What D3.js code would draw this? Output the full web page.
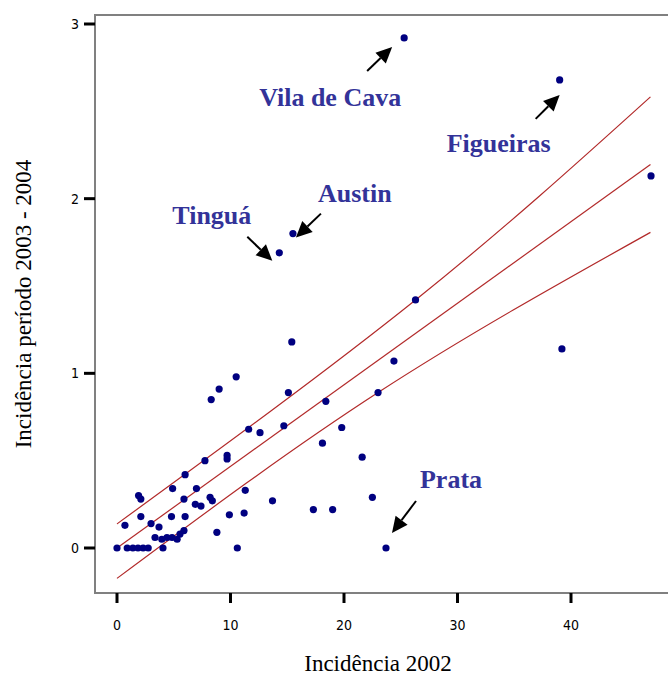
<!DOCTYPE html>
<html>
<head>
<meta charset="utf-8">
<script src="https://cdn.jsdelivr.net/npm/d3@7"></script>
<style>
  body { margin: 0; background: #fff; }
  .tick-label { font-family: "Liberation Sans Narrow", "DejaVu Sans Condensed", sans-serif; font-size: 14px; fill: #000; }
  .axis-title { font-family: "Liberation Serif", "Times New Roman", serif; font-size: 23px; fill: #000; }
  .note { font-family: "Liberation Serif", "Times New Roman", serif; font-size: 26px; font-weight: bold; fill: #333399; }
</style>
</head>
<body>
<div id="chart"></div>
<script>
// incidence 2002 (x) vs incidence 2003-2004 (y), one entry per locality
const incid2002 = [
  25.3, 39.0, 47.05, 15.5, 14.3, 26.3, 15.4, 39.2, 24.4, 10.5,
  9.0, 8.3, 15.1, 23.0, 18.4, 11.6, 12.6, 14.7, 19.8, 18.1,
  21.6, 9.7, 9.7, 7.75, 6.0, 4.9, 7.0, 11.3, 1.9, 2.1,
  5.9, 8.2, 8.4, 6.9, 7.4, 13.7, 22.5, 2.1, 4.8, 6.0,
  9.9, 11.2, 17.3, 19.0, 0.7, 3.0, 3.7, 8.8, 3.35, 3.95,
  4.4, 4.85, 5.3, 5.55, 5.9, 0.0, 0.9, 1.4, 1.85, 2.3,
  2.75, 4.05, 10.6, 23.7
];
const incid0304 = [
  2.92, 2.68, 2.13, 1.80, 1.69, 1.42, 1.18, 1.14, 1.07, 0.98,
  0.91, 0.85, 0.89, 0.89, 0.84, 0.68, 0.66, 0.70, 0.69, 0.60,
  0.52, 0.53, 0.51, 0.50, 0.42, 0.34, 0.34, 0.33, 0.30, 0.28,
  0.28, 0.29, 0.27, 0.25, 0.24, 0.27, 0.29, 0.18, 0.18, 0.18,
  0.19, 0.20, 0.22, 0.22, 0.13, 0.14, 0.12, 0.09, 0.06, 0.05,
  0.06, 0.06, 0.05, 0.08, 0.10, 0.0, 0.0, 0.0, 0.0, 0.0,
  0.0, 0.0, 0.0, 0.0
];

// fitted line and its confidence band
const upperX = [0, 26.3, 47.0];
const upperY = [0.138, 1.42, 2.583];
const midX   = [0, 47.0];
const midY   = [0.0, 2.195];
const lowerX = [0, 23.0, 47.0];
const lowerY = [-0.174, 0.89, 1.807];

const xTicks = [0, 10, 20, 30, 40];
const yTicks = [0, 1, 2, 3];

// labelled localities (index into the arrays above)
const noteNames = ["Vila de Cava", "Figueiras", "Austin", "Tinguá", "Prata"];
const noteIndex = [0, 1, 3, 4, 63];

// label / arrow placement relative to the point, in pixels
const noteLayout = [
  {lx: -145, ly: 68,  tip: [-12, 9],  tail: [-37, 33]},
  {lx: -113, ly: 72,  tip: [0, 15],   tail: [-24, 39]},
  {lx: 25,   ly: -32, tip: [3, 4],    tail: [28, -20]},
  {lx: -107, ly: -29, tip: [-7, 8],   tail: [-32, -16]},
  {lx: 34,   ly: -60, tip: [6, -15],  tail: [30, -47]}
];

const width = 668, height = 680;
const frame = {left: 95, top: 15, right: 670, bottom: 593};

const svg = d3.select("#chart")
  .append("svg")
  .attr("width", width)
  .attr("height", height);

const xScale = d3.scaleLinear()
  .domain([0, 40])
  .range([117, 571]);

const yScale = d3.scaleLinear()
  .domain([0, 3])
  .range([548, 24]);

// frame
svg.append("path")
  .attr("d", `M${frame.right},${frame.top}H${frame.left}V${frame.bottom}H${frame.right}`)
  .attr("fill", "none")
  .attr("stroke", "#808080")
  .attr("stroke-width", 2);

// ticks
svg.append("g")
  .selectAll("line")
  .data(xTicks)
  .join("line")
  .attr("x1", d => xScale(d))
  .attr("x2", d => xScale(d))
  .attr("y1", frame.bottom)
  .attr("y2", frame.bottom + 10)
  .attr("stroke", "#000")
  .attr("stroke-width", 3);

svg.append("g")
  .selectAll("text")
  .data(xTicks)
  .join("text")
  .attr("class", "tick-label")
  .attr("x", d => xScale(d))
  .attr("y", 630)
  .attr("text-anchor", "middle")
  .text(d => d);

svg.append("g")
  .selectAll("line")
  .data(yTicks)
  .join("line")
  .attr("x1", frame.left - 11)
  .attr("x2", frame.left)
  .attr("y1", d => yScale(d))
  .attr("y2", d => yScale(d))
  .attr("stroke", "#000")
  .attr("stroke-width", 3);

svg.append("g")
  .selectAll("text")
  .data(yTicks)
  .join("text")
  .attr("class", "tick-label")
  .attr("x", 79)
  .attr("y", d => yScale(d) + 5)
  .attr("text-anchor", "end")
  .text(d => d);

// axis titles
svg.append("text")
  .attr("class", "axis-title")
  .attr("x", 378)
  .attr("y", 671)
  .attr("text-anchor", "middle")
  .text("Incidência 2002");

svg.append("text")
  .attr("class", "axis-title")
  .attr("transform", "translate(31,304) rotate(-90)")
  .attr("text-anchor", "middle")
  .text("Incidência período 2003 - 2004");

// fit lines
const line = d3.line()
  .x(d => xScale(d[0]))
  .y(d => yScale(d[1]))
  .curve(d3.curveNatural);

[[upperX, upperY], [midX, midY], [lowerX, lowerY]].forEach(([xs, ys]) => {
  svg.append("path")
    .datum(xs.map((x, i) => [x, ys[i]]))
    .attr("d", line)
    .attr("fill", "none")
    .attr("stroke", "#b22a2a")
    .attr("stroke-width", 1.2);
});

// points
svg.append("g")
  .selectAll("circle")
  .data(d3.range(incid2002.length))
  .join("circle")
  .attr("cx", i => xScale(incid2002[i]))
  .attr("cy", i => yScale(incid0304[i]))
  .attr("r", 3.6)
  .attr("fill", "#000080");

// annotations
const notes = svg.append("g");
noteNames.forEach((name, k) => {
  const i = noteIndex[k], lay = noteLayout[k];
  const px = xScale(incid2002[i]), py = yScale(incid0304[i]);
  const tip = [px + lay.tip[0], py + lay.tip[1]];
  const tail = [px + lay.tail[0], py + lay.tail[1]];
  const ang = Math.atan2(tip[1] - tail[1], tip[0] - tail[0]);
  const len = 16, half = 7.5;
  const bx = tip[0] - len * Math.cos(ang), by = tip[1] - len * Math.sin(ang);
  const nx = -Math.sin(ang) * half, ny = Math.cos(ang) * half;

  notes.append("line")
    .attr("x1", tail[0]).attr("y1", tail[1])
    .attr("x2", bx).attr("y2", by)
    .attr("stroke", "#000")
    .attr("stroke-width", 2);

  notes.append("path")
    .attr("d", `M${tip[0]},${tip[1]}L${bx + nx},${by + ny}L${bx - nx},${by - ny}Z`)
    .attr("fill", "#000");

  notes.append("text")
    .attr("class", "note")
    .attr("x", px + lay.lx)
    .attr("y", py + lay.ly)
    .text(name);
});
</script>
</body>
</html>
